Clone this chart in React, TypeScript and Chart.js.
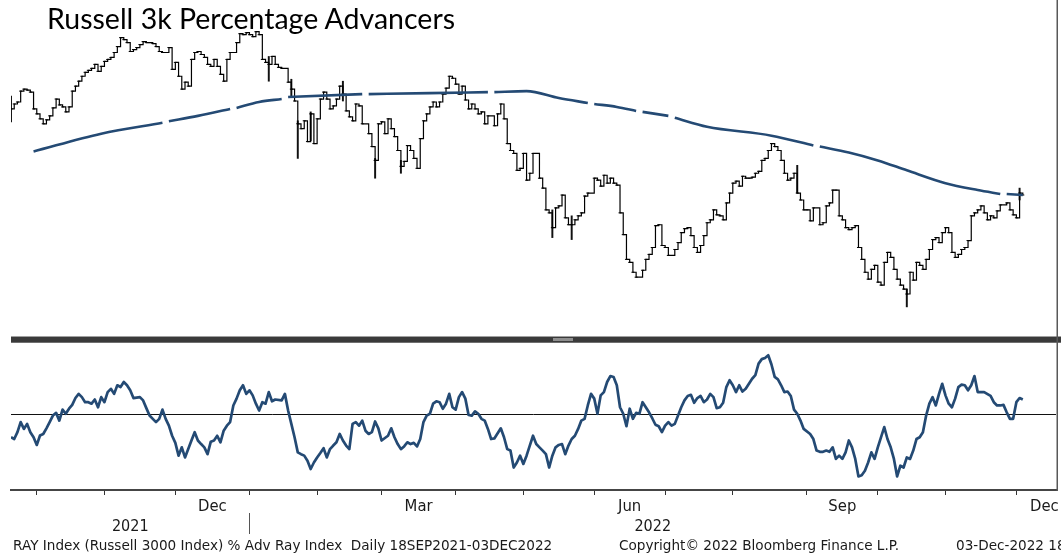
import React, { useEffect, useRef } from 'react';
import { Chart, registerables } from 'chart.js';

Chart.register(...registerables);

// ---------- DATA ----------
// every series is indexed by weekday number counted from START_DATE (Mon 20 Sep 2021)
const START_DATE = '2021-09-20';
const HOLIDAY_DATES = ['2021-11-25', '2021-12-24', '2022-01-17', '2022-02-21', '2022-04-15', '2022-05-30', '2022-06-20', '2022-07-04', '2022-09-05', '2022-11-24'];
const MONTH_STARTS = ['2021-10-01', '2021-11-01', '2021-12-01', '2022-01-01', '2022-02-01', '2022-03-01', '2022-04-01', '2022-05-01', '2022-06-01', '2022-07-01', '2022-08-01', '2022-09-01', '2022-10-01', '2022-11-01', '2022-12-01'];
const QUARTER_MONTHS = ['2021-12', '2022-03', '2022-06', '2022-09', '2022-12'];
const QUARTER_LABELS = ['Dec', 'Mar', 'Jun', 'Sep', 'Dec'];
const YEAR_LABELS = ['2021', '2022'];
const YEAR_BREAK = '2022-01-01';

// Russell 3000 % advancers, cumulative line (bar closes)
const CLOSE_VALUES = [
  230, 235, 237, 248, 250, 249, 247, 230, 225, 220,
  215, 219, 223, 231, 240, 234, 232, 227, 232, 248,
  253, 258, 263, 267, 269, 271, 275, 268, 273, 278,
  280, 282, 287, 293, 302, 300, 297, 288, 290, 292,
  295, 298, 297, 297, 296, 293, 288, 287, null, 292,
  270, 277, 263, 250, 257, 253, 280, 287, 288, 285,
  282, 275, 273, 280, 273, 265, 258, 280, 287, null,
  297, 306, 305, 307, 305, 303, 308, 305, 280, 277,
  275, 283, 275, 272, 271, null, 257, 250, 238, 215,
  210, 218, 197, 225, 195, 220, 240, 247, 240, 230,
  233, 240, 253, 245, 228, 222, 218, 235, 233, 215,
  null, 205, 192, 178, 215, 217, 205, 220, 210, 202,
  188, 172, 177, 193, 188, 180, 170, 200, 218, 225,
  232, 237, 232, 237, 245, 251, 263, 261, 255, 245,
  253, 239, 230, 235, 230, 225, 227, 215, 223, null,
  213, 225, 235, 220, 195, 188, 185, 168, 170, 185,
  158, 165, 185, 185, 160, 150, 128, 125, 110, 130,
  132, 143, 120, 113, 113, 118, 122, 125, 142, 145,
  null, 160, 158, 152, 163, 155, 160, 155, 153, 125,
  103, 78, 75, 65, 60, null, 67, 78, 83, 90,
  112, 113, 92, 90, 82, null, 88, 95, 105, 109,
  110, 102, 90, 85, 92, 102, 115, 118, 128, 123,
  122, 118, 135, 145, 155, 157, 152, 162, 160, 160,
  161, 165, 167, 178, 180, 188, 195, 192, 188, 178,
  165, 158, 160, 165, 145, 138, 128, 128, 117, 130,
  null, 113, 115, 132, 135, 148, 148, 122, 118, 110,
  108, 110, 112, 90, 78, 65, 58, 68, 72, 55,
  52, 75, 85, 80, 68, 58, 52, 48, 43, 65,
  57, 75, 72, 68, 78, 88, 98, 100, 95, 105,
  110, 105, 85, 80, 83, 88, 90, 97, 122, 125,
  128, 132, 125, 118, 122, 120, 127, 133, null, 135,
  128, 123, 120, 145, 143,
];

// intraday extremes that stick out of the close-to-close steps
const WICK_DAYS = [0, 80, 87, 89, 93, 103, 113, 121, 168, 174, 244, 278, 313];
const WICK_LOWS = [217, 258, 242, 180, 198, 238, 160, 165, 100, 98, 145, 30, 138];
const WICK_HIGHS = [243, 283, 260, 218, 227, 258, 180, 178, 128, 122, 173, 48, 150];

// 200-day moving average (read at anchor days, gaps on holidays)
const MA_DAYS = [7, 28, 47, 48, 49, 58, 68, 69, 70, 77, 84, 85, 86, 109, 110, 111, 130, 148, 149, 150, 160, 170, 179, 180, 181, 188, 194, 195, 196, 204, 205, 206, 216, 236, 249, 250, 251, 260, 269, 278, 290, 300, 307, 308, 309, 314];
const MA_VALUES = [187, 205, 216, null, 217.5, 223, 230, null, 231, 237, 240, null, 242, 245, null, 245, 246, 247, null, 247, 248, 241, 236, null, 235, 232, 228, null, 227, 223, null, 221, 212, 203, 193, null, 192, 186, 178, 168, 155, 148, 144, null, 144, 143];

// lower panel oscillator (% advancers, smoothed)
const OSC_VALUES = [
  42.1, 41.5, 43.8, 47.2, 44.9, 46.6, 43.8, 42.1, 39.5, 42.7,
  43.2, 45.1, 47.2, 49.4, 50.3, 47.7, 51.4, 50.0, 51.7, 53.0,
  55.3, 56.7, 55.6, 53.9, 53.9, 53.4, 54.8, 52.2, 55.6, 53.9,
  57.3, 58.4, 56.7, 59.6, 59.0, 60.7, 59.6, 57.9, 55.3, null,
  55.6, 54.5, 51.9, 49.4, 48.3, 47.2, 48.3, 51.4, 48.3, 46.0,
  42.6, 40.2, 35.9, 38.7, 35.3, 38.1, 41.0, 43.8, 41.0, 39.8,
  38.7, 36.4, 40.6, 41.0, 42.6, 40.4, 44.3, 46.0, 47.2, 52.8,
  55.1, 57.9, 59.6, 56.7, 57.9, 56.2, 53.4, 51.1, 53.9, 53.4,
  57.3, 54.2, 54.8, null, 54.5, 56.7, 51.1, 46.6, 42.1, 37.0,
  36.4, 35.9, 34.2, 31.4, 33.6, 35.3, 36.8, 38.4, 35.3, 38.1,
  39.3, 40.4, 43.2, 41.0, 39.3, 38.1, 46.6, 47.2, 46.0, 47.7,
  44.3, 43.2, 43.8, 47.4, 45.1, 41.0, null, 42.6, 45.1, 42.1,
  39.8, 38.1, 39.0, 40.4, 39.8, 40.2, 39.0, 41.5, 47.2, 49.4,
  50.0, 53.4, 54.2, 53.9, 51.7, 53.4, 56.7, 52.2, 51.4, 55.6,
  57.3, 55.1, 49.6, 49.4, 50.8, 50.0, 48.3, 47.7, 44.9, 41.5,
  41.7, null, 45.1, 42.1, 38.1, 37.6, 31.9, 33.6, 35.9, 33.1,
  35.9, 39.3, 42.6, 39.8, 38.7, 37.6, 36.4, 31.9, 35.9, 38.7,
  39.5, 39.8, 36.4, 39.3, 41.5, 42.6, 44.9, 47.7, 48.3, 52.8,
  56.7, 55.1, 50.0, 56.2, 57.3, 60.7, 62.7, 62.4, 59.6, 52.2,
  50.0, 45.8, 51.7, 48.3, 50.3, 50.0, 53.9, 52.2, 50.5, 48.5,
  46.3, 45.8, 43.8, 46.0, 47.2, 46.0, 46.6, null, 52.2, 54.5,
  56.0, 56.4, 53.7, 55.3, 56.0, 53.9, 54.8, 56.7, 55.6, 51.9,
  52.2, 53.7, 59.0, 61.3, 59.6, 57.3, 59.6, 57.5, 58.4, null,
  61.8, 63.0, 66.9, 68.4, 68.8, 69.7, 66.6, 62.4, 61.6, 59.6,
  57.3, 57.5, 56.0, 51.4, 50.0, 47.7, 44.9, null, 43.2, 41.5,
  37.6, 37.2, 37.2, 37.6, 37.2, 38.7, 34.8, 35.9, 34.8, 37.0,
  41.0, 38.7, 34.8, 28.9, 29.3, 30.8, 33.6, 37.0, 34.8, 38.7,
  null, 45.5, 41.5, 38.7, 34.8, 28.9, 32.5, 31.9, 35.3, 34.8,
  37.6, 41.5, 42.1, 43.8, 49.4, 53.4, 55.6, 52.8, 56.7, 60.1,
  56.2, 53.4, 52.2, 55.1, 59.0, 59.8, 59.6, 57.9, 59.6, 62.7,
  57.3, 57.3, 57.3, null, 56.0, 53.9, 52.8, 52.8, 53.0, 50.5,
  48.3, 48.3, 53.9, 55.3, 54.8,
];
const OSC_MIDLINE = 50;

// ---------- HELPERS ----------
const DAY_MS = 86400000;
function parseDate(s: string): number {
  const [y, m, d] = s.split('-').map(Number);
  return Date.UTC(y, m - 1, d || 1);
}
// weekday index of a date (weekend dates map to the following weekday)
function weekdayIndex(s: string): number {
  const start = parseDate(START_DATE);
  const t = parseDate(s);
  let n = 0;
  for (let cur = start; cur < t; cur += DAY_MS) {
    const wd = new Date(cur).getUTCDay();
    if (wd !== 0 && wd !== 6) n++;
  }
  return n;
}
function nextMonth(ym: string): string {
  const [y, m] = ym.split('-').map(Number);
  return m === 12 ? `${y + 1}-01-01` : `${y}-${String(m + 1).padStart(2, '0')}-01`;
}

const X_MIN = 0;
const X_MAX = 324.3;
const TICK_SHIFT = 1; // month boundary sits just before the first session of the month

const MONTH_TICKS = MONTH_STARTS.map((d) => weekdayIndex(d) - TICK_SHIFT);
const QUARTER_POS = QUARTER_MONTHS.map((ym) => {
  const a = weekdayIndex(`${ym}-01`) - TICK_SHIFT;
  const b = weekdayIndex(nextMonth(ym)) - TICK_SHIFT;
  return Math.min((a + b) / 2, X_MAX - 3.6);
});
const YEAR_TICK = weekdayIndex(YEAR_BREAK) - TICK_SHIFT;
const YEAR_POS = [(X_MIN + YEAR_TICK) / 2, (YEAR_TICK + X_MAX) / 2];
const HOLIDAY_IDX = new Set(HOLIDAY_DATES.map(weekdayIndex));

const BLUE = '#244a74';
const AXIS_FONT = "'DejaVu Sans Condensed', 'DejaVu Sans', sans-serif";
const FOOTER_FONT = "'DejaVu Sans', sans-serif";

const framePlugin = {
  id: 'bbgFrame',
  beforeDatasetsDraw(chart: any) {
    const { ctx, chartArea } = chart;
    const yB = chart.scales.yBot;
    const y = Math.round(yB.getPixelForValue(OSC_MIDLINE)) + 0.5;
    ctx.save();
    ctx.strokeStyle = '#111';
    ctx.lineWidth = 1;
    ctx.beginPath();
    ctx.moveTo(chartArea.left, y);
    ctx.lineTo(chartArea.right, y);
    ctx.stroke();
    ctx.restore();
  },
  afterDraw(chart: any) {
    const { ctx, chartArea } = chart;
    const yT = chart.scales.yTop;
    const xs = chart.scales.x;
    const xy = chart.scales.xy;
    ctx.save();
    // panel divider
    const b = Math.round(yT.bottom);
    ctx.fillStyle = '#3a3a3a';
    ctx.fillRect(chartArea.left, b - 4, chart.width - chartArea.left, 7);
    ctx.fillStyle = '#a0a0a0';
    ctx.fillRect(chartArea.left, b - 4, chart.width - chartArea.left, 1);
    ctx.fillStyle = '#707070';
    ctx.fillRect(chartArea.left, b + 2, chart.width - chartArea.left, 1);
    ctx.fillStyle = '#8e8e8e';
    ctx.fillRect(553, b - 2, 20, 3);
    // right frame
    ctx.fillStyle = '#585858';
    ctx.fillRect(chartArea.right + 0.5, 0, 1.5, chartArea.bottom + 1);
    // year separator
    const sx = Math.round(xs.getPixelForValue(YEAR_TICK)) + 0.5;
    ctx.strokeStyle = '#555';
    ctx.lineWidth = 1;
    ctx.beginPath();
    ctx.moveTo(sx, xy.top - 1);
    ctx.lineTo(sx, xy.bottom - 2);
    ctx.stroke();
    ctx.restore();
  },
};

export default function App() {
  const ref = useRef<HTMLCanvasElement>(null);

  useEffect(() => {
    const canvas = ref.current;
    if (!canvas) return;

    const closeData = CLOSE_VALUES.map((v, i) => ({ x: i, y: HOLIDAY_IDX.has(i) ? null : v }));
    const oscData = OSC_VALUES.map((v, i) => ({ x: i, y: v }));
    const maData = MA_DAYS.map((d, i) => ({ x: d, y: MA_VALUES[i] }));
    const wickData = WICK_DAYS.map((d, i) => ({ x: d, y: [WICK_LOWS[i], WICK_HIGHS[i]] }));

    const chart = new Chart(canvas, {
      type: 'line',
      data: {
        datasets: [
          {
            type: 'line',
            label: '200D MA',
            data: maData as any,
            xAxisID: 'x',
            yAxisID: 'yTop',
            borderColor: BLUE,
            borderWidth: 2.6,
            pointRadius: 0,
            spanGaps: false,
            cubicInterpolationMode: 'monotone',
            order: 0,
          },
          {
            type: 'line',
            label: 'RAY % Adv',
            data: closeData as any,
            xAxisID: 'x',
            yAxisID: 'yTop',
            borderColor: '#000',
            borderWidth: 1.2,
            pointStyle: 'line',
            pointRadius: 1.5,
            pointBorderWidth: 1,
            pointBorderColor: '#000',
            stepped: 'before',
            spanGaps: true,
            order: 1,
          },
          {
            type: 'bar',
            label: 'Range',
            data: wickData as any,
            xAxisID: 'x',
            yAxisID: 'yTop',
            backgroundColor: '#111',
            barThickness: 1.3,
            order: 2,
          },
          {
            type: 'line',
            label: 'Oscillator',
            data: oscData as any,
            xAxisID: 'x',
            yAxisID: 'yBot',
            borderColor: BLUE,
            borderWidth: 2.7,
            borderJoinStyle: 'round',
            pointRadius: 0,
            spanGaps: true,
            order: 0,
          },
        ],
      },
      options: {
        responsive: false,
        animation: false,
        events: [],
        layout: { padding: { left: 11, right: 2, top: 0, bottom: 17 } },
        plugins: {
          legend: { display: false },
          tooltip: { enabled: false },
        },
        scales: {
          x: {
            type: 'linear',
            position: 'bottom',
            weight: 0,
            offset: false,
            min: X_MIN,
            max: X_MAX,
            grid: { offset: false, drawOnChartArea: false, drawTicks: true, tickLength: 5, color: '#333', lineWidth: 1 },
            border: { display: true, color: '#454545', width: 2 },
            ticks: { display: false },
            afterBuildTicks: (s: any) => {
              s.ticks = MONTH_TICKS.map((v) => ({ value: v }));
            },
            afterFit: (s: any) => {
              s.height = 6;
              s.paddingLeft = 0;
              s.paddingRight = 0;
            },
          },
          xq: {
            type: 'linear',
            position: 'bottom',
            weight: 1,
            offset: false,
            min: X_MIN,
            max: X_MAX,
            grid: { display: false, drawTicks: false },
            border: { display: false },
            ticks: {
              autoSkip: false,
              maxRotation: 0,
              padding: 1,
              color: '#1a1a1a',
              font: { family: AXIS_FONT, size: 16.5 },
              callback: (_v: any, i: number) => QUARTER_LABELS[i],
            },
            afterBuildTicks: (s: any) => {
              s.ticks = QUARTER_POS.map((v) => ({ value: v }));
            },
            afterFit: (s: any) => {
              s.height = 18;
              s.paddingLeft = 0;
              s.paddingRight = 0;
            },
          },
          xy: {
            type: 'linear',
            position: 'bottom',
            weight: 2,
            offset: false,
            min: X_MIN,
            max: X_MAX,
            grid: { display: false, drawTicks: false },
            border: { display: false },
            ticks: {
              autoSkip: false,
              maxRotation: 0,
              padding: 3,
              color: '#1a1a1a',
              font: { family: AXIS_FONT, size: 16 },
              callback: (_v: any, i: number) => YEAR_LABELS[i],
            },
            afterBuildTicks: (s: any) => {
              s.ticks = YEAR_POS.map((v) => ({ value: v }));
            },
            afterFit: (s: any) => {
              s.height = 22;
              s.paddingLeft = 0;
              s.paddingRight = 0;
            },
          },
          yBot: {
            type: 'linear',
            position: 'left',
            display: false,
            stack: 'panels',
            stackWeight: 151.5,
            min: 24.33,
            max: 74.83,
          },
          yTop: {
            type: 'linear',
            position: 'left',
            display: false,
            stack: 'panels',
            stackWeight: 338.5,
            min: -3.5,
            max: 335,
          },
        },
      } as any,
      plugins: [framePlugin],
    });

    return () => chart.destroy();
  }, []);

  const footer: React.CSSProperties = {
    position: 'absolute',
    top: 538,
    fontFamily: FOOTER_FONT,
    fontSize: 13.6,
    lineHeight: '14px',
    color: '#1a1a1a',
    whiteSpace: 'pre',
  };

  return (
    <div style={{ position: 'absolute', left: 0, top: 0, width: 1061, height: 553, overflow: 'hidden', background: '#fff' }}>
      <canvas ref={ref} width={1061} height={553} style={{ position: 'absolute', left: 0, top: 0, width: 1061, height: 553 }} />
      <div
        style={{
          position: 'absolute',
          left: 47,
          top: 4,
          fontFamily: 'Lato, sans-serif',
          fontSize: 28.5,
          lineHeight: '28px',
          color: '#000',
          whiteSpace: 'nowrap',
        }}
      >
        Russell 3k Percentage Advancers
      </div>
      <div style={{ ...footer, left: 13 }}>RAY Index (Russell 3000 Index) % Adv Ray Index  Daily 18SEP2021-03DEC2022</div>
      <div style={{ ...footer, left: 619 }}>Copyright© 2022 Bloomberg Finance L.P.</div>
      <div style={{ ...footer, left: 956 }}>03-Dec-2022 18:</div>
    </div>
  );
}
